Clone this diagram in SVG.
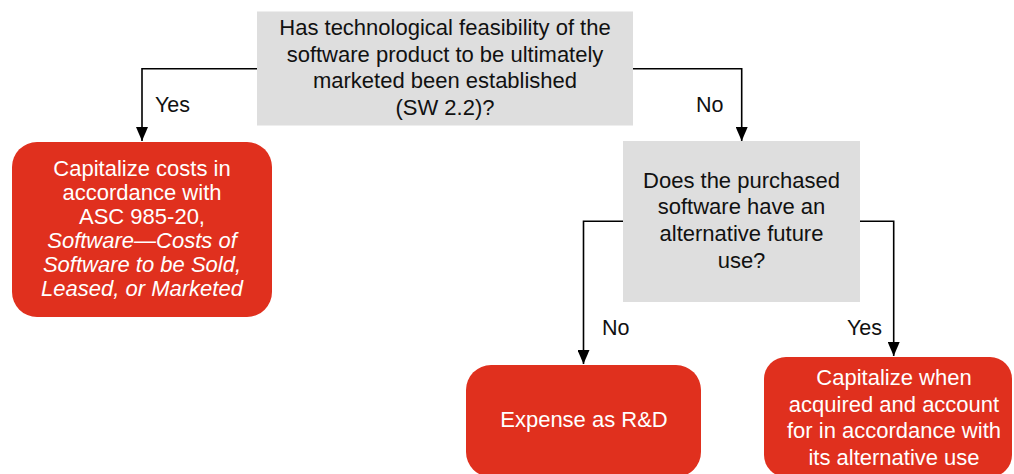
<svg xmlns="http://www.w3.org/2000/svg" width="1014" height="474" viewBox="0 0 1014 474">
<style>
.q{fill:#DEDEDE}
.r{fill:#E0301E}
.t{font-family:"Liberation Sans",Arial,sans-serif;font-size:22px;text-anchor:middle}
.dk{fill:#111}
.wh{fill:#fff}
.lbl{font-family:"Liberation Sans",Arial,sans-serif;font-size:21.5px;fill:#111}
.c{fill:none;stroke:#000;stroke-width:1.6}
</style>
<defs>
<marker id="ah" markerUnits="userSpaceOnUse" markerWidth="14" markerHeight="12" refX="14" refY="6" orient="auto" viewBox="0 0 14 12">
<path d="M0,0 L14,6 L0,12 Z" fill="#000"/>
</marker>
</defs>
<rect width="1014" height="474" fill="#fff"/>
<g id="connectors">
<path class="c" d="M257,68.7 H142 V141" marker-end="url(#ah)"/>
<path class="c" d="M633,68.7 H741.7 V141" marker-end="url(#ah)"/>
<path class="c" d="M623,221.3 H583.5 V364" marker-end="url(#ah)"/>
<path class="c" d="M860,221.3 H893.7 V356" marker-end="url(#ah)"/>
<text class="lbl" x="155" y="111.5">Yes</text>
<text class="lbl" x="696" y="111.5">No</text>
<text class="lbl" x="602" y="335">No</text>
<text class="lbl" x="847" y="335">Yes</text>
</g>
<g id="q1">
<rect class="q" x="257" y="11.5" width="376" height="114"/>
<text class="t dk"><tspan x="445" y="35">Has technological feasibility of the</tspan><tspan x="445" y="61.7">software product to be ultimately</tspan><tspan x="445" y="88.3">marketed been established</tspan><tspan x="445" y="115">(SW 2.2)?</tspan></text>
</g>
<g id="capitalize985">
<rect class="r" x="12" y="142" width="260" height="175" rx="25"/>
<text class="t wh"><tspan x="142" y="175.7">Capitalize costs in</tspan><tspan x="142" y="199.7">accordance with</tspan><tspan x="142" y="223.7">ASC 985-20,</tspan><tspan x="142" y="247.7" font-style="italic">Software—Costs of</tspan><tspan x="142" y="271.7" font-style="italic">Software to be Sold,</tspan><tspan x="142" y="295.7" font-style="italic">Leased, or Marketed</tspan></text>
</g>
<g id="q2">
<rect class="q" x="623" y="141" width="237" height="161"/>
<text class="t dk"><tspan x="741.5" y="187.7">Does the purchased</tspan><tspan x="741.5" y="214.3">software have an</tspan><tspan x="741.5" y="241">alternative future</tspan><tspan x="741.5" y="267.7">use?</tspan></text>
</g>
<g id="expense">
<rect class="r" x="466" y="365" width="235" height="112" rx="25"/>
<text class="t wh" x="584" y="427.3">Expense as R&amp;D</text>
</g>
<g id="capitalizeAlt">
<rect class="r" x="764" y="357" width="248" height="120" rx="22"/>
<text class="t wh"><tspan x="894" y="385">Capitalize when</tspan><tspan x="894" y="411.7">acquired and account</tspan><tspan x="894" y="438.3">for in accordance with</tspan><tspan x="894" y="465">its alternative use</tspan></text>
</g>
</svg>
